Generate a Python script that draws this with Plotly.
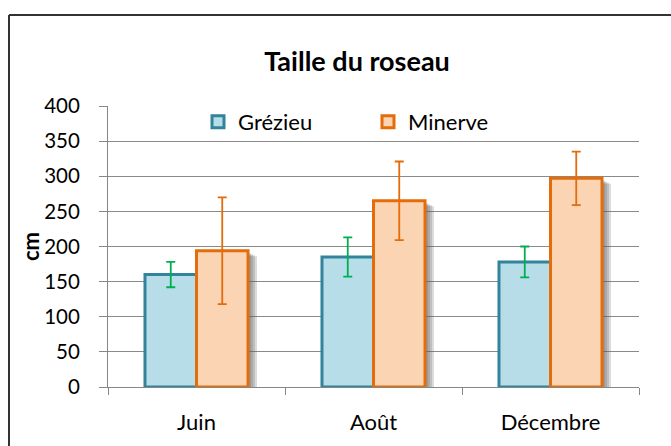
import plotly.graph_objects as go

# Reed height per site and month (cm), with standard deviations
months = ["Juin", "Août", "Décembre"]
grezieu = [160, 185, 178]
grezieu_err = [18, 28, 22]
minerve = [194, 265, 297]
minerve_err = [76, 56, 38]
y_ticks = [0, 50, 100, 150, 200, 250, 300, 350, 400]

FONT = "Lato, Calibri, Carlito, sans-serif"
W, H = 671, 446
L, R, T, B = 108, 32, 106, 59
pw = W - L - R
ph = H - T - B

BAR_W = 0.291          # width of one bar, in category units
px_x = 1.0 / (pw / 3)  # one pixel in category units
px_y = 400.0 / ph      # one pixel in cm

series = [
    dict(name="Grézieu", y=grezieu, err=grezieu_err, offset=-BAR_W,
         fill="#B7DDE8", edge="#31849B", err_color="#00B050"),
    dict(name="Minerve", y=minerve, err=minerve_err, offset=0.0,
         fill="#FBD4B4", edge="#E46C0A", err_color="#E46C0A"),
]

fig = go.Figure()

# soft drop shadow behind the bars, a few stacked translucent layers
for s in series:
    for k in (9, 7, 5, 3):
        fig.add_trace(go.Bar(
            x=months, y=[v - (k / 2 + 1) * px_y for v in s["y"]],
            offset=s["offset"] + k * px_x, width=BAR_W,
            marker=dict(color="rgba(90,90,90,0.22)", line=dict(width=0)),
            showlegend=False, hoverinfo="skip",
        ))

for s in series:
    fig.add_trace(go.Bar(
        name=s["name"], x=months, y=s["y"],
        offset=s["offset"], width=BAR_W,
        marker=dict(color=s["fill"], line=dict(color=s["edge"], width=3)),
        error_y=dict(type="data", array=s["err"], color=s["err_color"],
                     thickness=1.8, width=4.5),
    ))

# outer chart frame (top and left edges visible)
frame_x0 = (9 - L) / pw
frame_y1 = (H - 15 - B) / ph

fig.update_layout(
    width=W, height=H,
    margin=dict(l=L, r=R, t=T, b=B, pad=0),
    paper_bgcolor="white", plot_bgcolor="white",
    font=dict(family=FONT, size=21, color="black"),
    barmode="overlay",
    title=dict(text="<b>Taille du roseau</b>", x=(357 - L) / pw, xref="paper",
               xanchor="center", y=1 - 62 / H, yanchor="middle",
               font=dict(family=FONT, size=27, color="black")),
    legend=dict(orientation="h", x=(198 - L) / pw, y=(H - B - 122) / ph,
                xanchor="left", yanchor="middle", bgcolor="rgba(0,0,0,0)",
                entrywidth=125, entrywidthmode="pixels", itemwidth=30,
                font=dict(family=FONT, size=22, color="black"),
                tracegroupgap=0),
    xaxis=dict(showline=True, linecolor="#868686", linewidth=1,
               ticks="outside", tickson="boundaries", ticklen=7,
               tickcolor="#868686", ticklabelstandoff=16,
               range=[-0.5, 2.5],
               tickfont=dict(family=FONT, size=22)),
    yaxis=dict(range=[0, 400], tickvals=y_ticks, showline=True,
               linecolor="#868686", linewidth=1, showgrid=True,
               gridcolor="#8a8a8a", gridwidth=1, ticks="outside",
               ticklen=8, tickcolor="#868686", zeroline=False,
               ticklabelstandoff=15,
               tickfont=dict(family=FONT, size=20.5)),
    annotations=[
        dict(text="<b>cm</b>", xref="paper", yref="paper",
             x=(30 - L) / pw, y=(H - B - 247) / ph, showarrow=False,
             textangle=-90, xanchor="center", yanchor="middle",
             font=dict(family=FONT, size=22, color="black")),
    ],
    shapes=[
        dict(type="line", xref="paper", yref="paper", x0=frame_x0, x1=1.2,
             y0=frame_y1, y1=frame_y1, line=dict(color="#333333", width=2)),
        dict(type="line", xref="paper", yref="paper", x0=frame_x0, x1=frame_x0,
             y0=-0.3, y1=frame_y1, line=dict(color="#333333", width=2)),
    ],
)

fig.write_html("out.html")
